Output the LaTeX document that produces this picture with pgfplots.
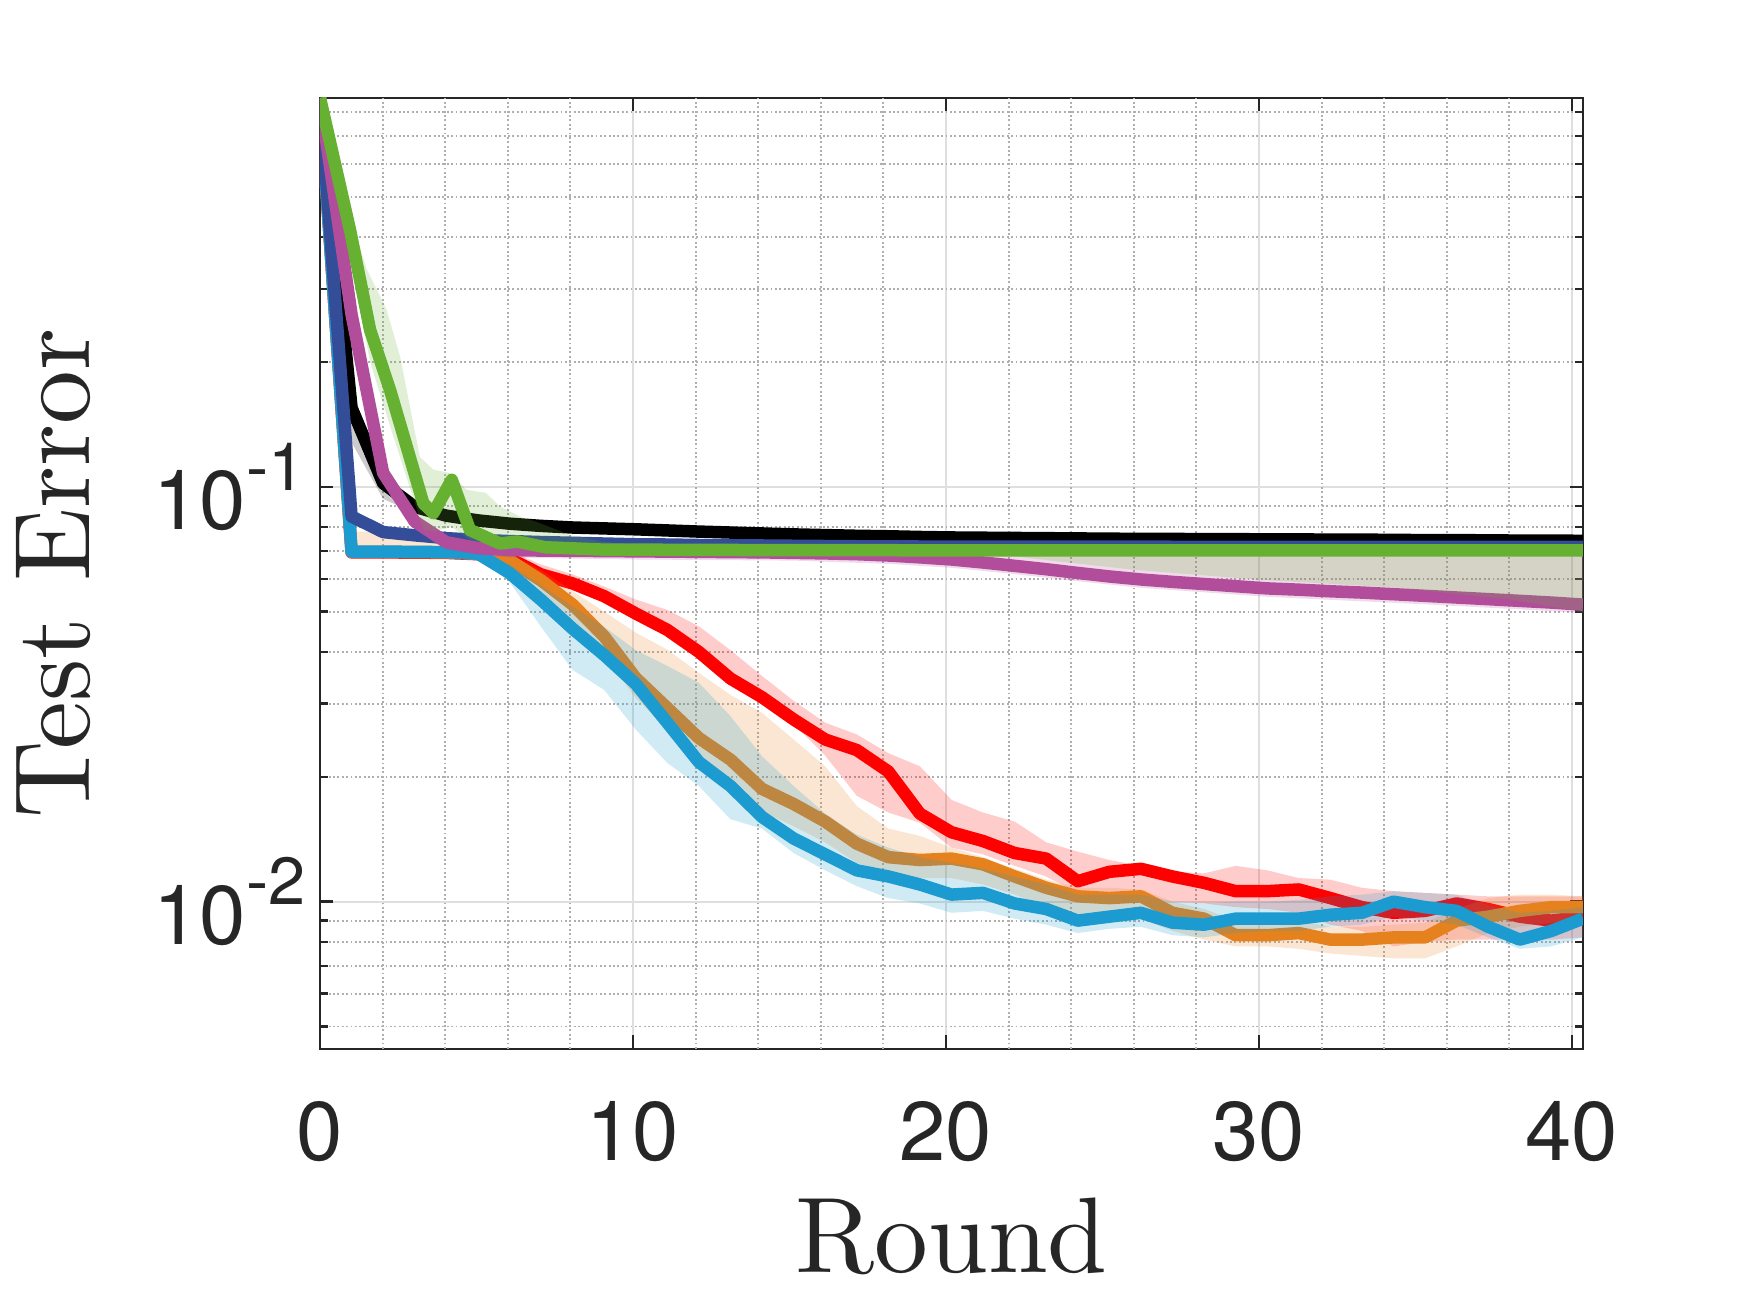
\documentclass[border=0pt]{standalone}
\usepackage{pgfplots}
\pgfplotsset{compat=1.18}
\usepackage{pgfplotstable}
\usepackage{fontspec}
\newfontfamily\hv{TeX Gyre Heros}
\definecolor{axc}{RGB}{38,38,38}
\definecolor{gridc}{RGB}{223,223,223}
\definecolor{mgridc}{RGB}{175,175,175}
\definecolor{cRed}{RGB}{255,0,0}
\definecolor{cOrg}{RGB}{230,130,30}
\definecolor{cCyn}{RGB}{27,155,207}
\definecolor{cDbl}{RGB}{51,77,153}
\definecolor{cMag}{RGB}{178,77,155}
\definecolor{cGrn}{RGB}{102,177,50}
\newcommand{\tl}{\hv\fontsize{20}{24}\selectfont}
\newcommand{\sps}[1]{\raisebox{9.5pt}{\fontsize{16}{18}\selectfont #1}}

\pgfplotstableread{
x blk dbl cyn red org mag
0 0.866 0.866 0.866 0.866 0.866 0.866
1.009 0.155 0.0848 0.0698 0.0695 0.0697 0.26
2.018 0.102 0.0778 0.0698 0.0695 0.0697 0.108
3.026 0.0895 0.0764 0.0697 0.0694 0.0696 0.0825
4.035 0.0852 0.0752 0.0696 0.0693 0.0695 0.0735
5.044 0.0830 0.0745 0.0690 0.0688 0.0689 0.0712
6.053 0.0815 0.0740 0.0620 0.0672 0.0665 0.0704
7.061 0.0805 0.0736 0.0534 0.0615 0.0595 0.0702
8.070 0.0798 0.0733 0.0455 0.0585 0.0520 0.0701
9.079 0.0794 0.0730 0.0393 0.0545 0.0436 0.0700
10.088 0.0790 0.0727 0.0335 0.0495 0.0346 0.0699
11.096 0.0785 0.0726 0.0270 0.0452 0.0293 0.0698
12.105 0.0780 0.0724 0.0217 0.0400 0.0248 0.0697
13.114 0.0776 0.0723 0.0190 0.0345 0.0220 0.0696
14.123 0.0772 0.0722 0.0160 0.0311 0.0187 0.0695
15.131 0.0768 0.0721 0.0142 0.0275 0.0172 0.0693
16.140 0.0765 0.0720 0.0130 0.0246 0.0156 0.0691
17.149 0.0762 0.0719 0.0119 0.0232 0.0138 0.0688
18.158 0.0760 0.0719 0.0115 0.0206 0.0128 0.0683
19.166 0.0757 0.0718 0.0110 0.0163 0.0126 0.0676
20.175 0.0755 0.0718 0.0104 0.0147 0.0127 0.0668
21.184 0.0754 0.0718 0.0105 0.0140 0.0123 0.0657
22.193 0.0753 0.0718 0.0099 0.0131 0.0115 0.0645
23.201 0.0752 0.0718 0.0096 0.0127 0.0108 0.0633
24.210 0.0751 0.0718 0.0090 0.0112 0.0103 0.0620
25.219 0.0750 0.0718 0.0092 0.0118 0.0102 0.0608
26.228 0.0749 0.0718 0.0094 0.0120 0.0103 0.0598
27.236 0.0749 0.0717 0.0089 0.0115 0.0094 0.0590
28.245 0.0748 0.0717 0.0088 0.0111 0.0091 0.0583
29.254 0.0748 0.0717 0.0091 0.0106 0.0083 0.0576
30.263 0.0747 0.0717 0.0091 0.0106 0.0083 0.0569
31.271 0.0747 0.0717 0.0091 0.0107 0.0084 0.0565
32.280 0.0746 0.0717 0.0093 0.0102 0.0081 0.0560
33.289 0.0746 0.0717 0.0094 0.0097 0.0081 0.0556
34.298 0.0745 0.0717 0.0100 0.0094 0.0082 0.0551
35.306 0.0744 0.0717 0.0097 0.0095 0.0082 0.0546
36.315 0.0744 0.0717 0.0095 0.0099 0.0090 0.0541
37.324 0.0743 0.0717 0.0087 0.0096 0.0092 0.0536
38.333 0.0742 0.0717 0.0081 0.0092 0.0095 0.0531
39.341 0.0742 0.0717 0.0085 0.0090 0.0097 0.0526
40.350 0.0741 0.0717 0.0091 0.0092 0.0097 0.0520
}\lines

\begin{document}
\begin{tikzpicture}
\path[use as bounding box] (-76.8pt,-63.36pt) rectangle (343.2pt,251.7pt);
\begin{axis}[
  at={(0,0)}, anchor=south west,
  scale only axis, width=303.1pt, height=228.2pt,
  xmin=0, xmax=40.35, ymode=log, ymin=0.00442, ymax=0.866,
  xtick={0,10,20,30,40}, xticklabels={0,10,20,30,40},
  ytick={0.01,0.1}, yticklabels={{10\sps{-2}},{10\sps{-1}}},
  minor ytick={0.005,0.006,0.007,0.008,0.009,0.02,0.03,0.04,0.05,0.06,0.07,0.08,0.09,0.2,0.3,0.4,0.5,0.6,0.7,0.8},
  tick align=inside,
  major tick length=3.2pt, minor tick length=1.9pt,
  tick style={color=axc, line width=0.6pt},
  axis line style={color=axc, line width=0.6pt},
  grid=both,
  major grid style={color=gridc, line width=0.5pt, solid},
  minor grid style={color=mgridc, line width=0.45pt, dash pattern=on 0.45pt off 0.6pt},
  tick label style={font=\tl, color=axc},
  xticklabel style={anchor=base, yshift=-26.9pt},
  every axis x label/.style={at={(rel axis cs:0.5,0)}, anchor=base, yshift=-53.8pt, scale=2.58},
  every axis y label/.style={at={(rel axis cs:0,0.5)}, xshift=-55.2pt, rotate=90, anchor=base, scale=2.58},
  label style={font=\fontsize{10}{12}\selectfont, color=axc},
  xlabel={Round}, ylabel={Test Error},
]
\pgfplotsinvokeforeach{2,4,6,8,12,14,16,18,22,24,26,28,32,34,36,38}{
  \draw[color=mgridc, line width=0.45pt, dash pattern=on 0.45pt off 0.6pt] (axis cs:#1,0.00442) -- (axis cs:#1,0.866);
}
% red
\addplot[draw=none, fill=cRed, fill opacity=0.2] coordinates {(0,0.866)(1.009,0.0720)(2.018,0.0720)(3.026,0.0718)(4.035,0.0715)(5.044,0.0708)(6.053,0.0700)(7.061,0.0650)(8.070,0.0615)(9.079,0.0575)(10.088,0.0535)(11.096,0.0505)(12.105,0.0461)(13.114,0.0404)(14.123,0.0350)(15.131,0.0305)(16.140,0.0270)(17.149,0.0253)(18.158,0.0228)(19.166,0.0212)(20.175,0.0176)(21.184,0.0164)(22.193,0.0156)(23.201,0.0139)(24.210,0.0132)(25.219,0.0126)(26.228,0.0122)(27.236,0.0118)(28.245,0.0117)(29.254,0.0122)(30.263,0.0119)(31.271,0.0114)(32.280,0.0113)(33.289,0.0108)(34.298,0.0106)(35.306,0.0105)(36.315,0.0104)(37.324,0.0103)(38.333,0.0103)(39.341,0.0103)(40.350,0.0103)
(40.350,0.0082)(39.341,0.0081)(38.333,0.0081)(37.324,0.0081)(36.315,0.0081)(35.306,0.0080)(34.298,0.0078)(33.289,0.0085)(32.280,0.0088)(31.271,0.0094)(30.263,0.0096)(29.254,0.0097)(28.245,0.0099)(27.236,0.0100)(26.228,0.0102)(25.219,0.0105)(24.210,0.0105)(23.201,0.0115)(22.193,0.0122)(21.184,0.0130)(20.175,0.0135)(19.166,0.0155)(18.158,0.0164)(17.149,0.0180)(16.140,0.0225)(15.131,0.0268)(14.123,0.0303)(13.114,0.0338)(12.105,0.0390)(11.096,0.0440)(10.088,0.0480)(9.079,0.0525)(8.070,0.0565)(7.061,0.0595)(6.053,0.0650)(5.044,0.0678)(4.035,0.0685)(3.026,0.0688)(2.018,0.0690)(1.009,0.0690)};
\addplot[cRed, line width=3pt, line join=round] table[x=x,y=red]{\lines};
% orange
\addplot[draw=none, fill=cOrg, fill opacity=0.2] coordinates {(0,0.866)(1.009,0.078)(2.018,0.078)(3.026,0.075)(4.035,0.073)(5.044,0.072)(6.053,0.069)(7.061,0.063)(8.070,0.056)(9.079,0.050)(10.088,0.0445)(11.096,0.0405)(12.105,0.0356)(13.114,0.0315)(14.123,0.0285)(15.131,0.0246)(16.140,0.0212)(17.149,0.0170)(18.158,0.0150)(19.166,0.0144)(20.175,0.0135)(21.184,0.0128)(22.193,0.0120)(23.201,0.0113)(24.210,0.0108)(25.219,0.0108)(26.228,0.0107)(27.236,0.0100)(28.245,0.0096)(29.254,0.0090)(30.263,0.0089)(31.271,0.0090)(32.280,0.0087)(33.289,0.0087)(34.298,0.0088)(35.306,0.0089)(36.315,0.0096)(37.324,0.0102)(38.333,0.0104)(39.341,0.0104)(40.350,0.0103)
(40.350,0.0090)(39.341,0.0089)(38.333,0.0087)(37.324,0.0084)(36.315,0.0078)(35.306,0.0073)(34.298,0.0073)(33.289,0.0074)(32.280,0.0075)(31.271,0.0077)(30.263,0.0078)(29.254,0.0078)(28.245,0.0081)(27.236,0.0085)(26.228,0.0091)(25.219,0.0092)(24.210,0.0093)(23.201,0.0097)(22.193,0.0104)(21.184,0.0110)(20.175,0.0114)(19.166,0.0114)(18.158,0.0117)(17.149,0.0124)(16.140,0.0139)(15.131,0.0152)(14.123,0.0165)(13.114,0.0195)(12.105,0.0220)(11.096,0.0260)(10.088,0.0310)(9.079,0.0390)(8.070,0.0460)(7.061,0.0540)(6.053,0.0630)(5.044,0.0670)(4.035,0.0680)(3.026,0.0682)(2.018,0.0683)(1.009,0.0683)};
\addplot[cOrg, line width=3pt, line join=round] table[x=x,y=org]{\lines};
% cyan
\addplot[draw=none, fill=cCyn, fill opacity=0.2] coordinates {(0,0.866)(1.009,0.0712)(2.018,0.0712)(3.026,0.0711)(4.035,0.0710)(5.044,0.0705)(6.053,0.0650)(7.061,0.0580)(8.070,0.0515)(9.079,0.0460)(10.088,0.0404)(11.096,0.0370)(12.105,0.0337)(13.114,0.0280)(14.123,0.0224)(15.131,0.0190)(16.140,0.0163)(17.149,0.0145)(18.158,0.0135)(19.166,0.0128)(20.175,0.0124)(21.184,0.0120)(22.193,0.0115)(23.201,0.0110)(24.210,0.0104)(25.219,0.0104)(26.228,0.0104)(27.236,0.0100)(28.245,0.0099)(29.254,0.0100)(30.263,0.0100)(31.271,0.0101)(32.280,0.0103)(33.289,0.0104)(34.298,0.0106)(35.306,0.0105)(36.315,0.0104)(37.324,0.0098)(38.333,0.0094)(39.341,0.0095)(40.350,0.0097)
(40.350,0.0082)(39.341,0.0078)(38.333,0.0077)(37.324,0.0082)(36.315,0.0088)(35.306,0.0090)(34.298,0.0092)(33.289,0.0088)(32.280,0.0087)(31.271,0.0085)(30.263,0.0085)(29.254,0.0084)(28.245,0.0082)(27.236,0.0083)(26.228,0.0087)(25.219,0.0086)(24.210,0.0084)(23.201,0.0088)(22.193,0.0091)(21.184,0.0095)(20.175,0.0094)(19.166,0.0099)(18.158,0.0102)(17.149,0.0109)(16.140,0.0119)(15.131,0.0131)(14.123,0.0150)(13.114,0.0158)(12.105,0.0190)(11.096,0.0216)(10.088,0.0260)(9.079,0.0324)(8.070,0.0362)(7.061,0.0460)(6.053,0.0590)(5.044,0.0675)(4.035,0.0683)(3.026,0.0684)(2.018,0.0685)(1.009,0.0685)};
\addplot[cCyn, line width=3pt, line join=round] table[x=x,y=cyn]{\lines};
% black
\addplot[draw=none, fill=black, fill opacity=0.2] coordinates {(0,0.866)(1.009,0.168)(2.018,0.107)(3.026,0.092)(4.035,0.087)(6.053,0.083)(10.088,0.0800)(20.175,0.0765)(40.35,0.0750)(40.35,0.0733)(20.175,0.0746)(10.088,0.0780)(6.053,0.0800)(4.035,0.0835)(3.026,0.0865)(2.018,0.0935)(1.009,0.128)};
\addplot[black, line width=3pt, line join=round] table[x=x,y=blk]{\lines};
% dark blue
\addplot[cDbl, line width=3pt, line join=round] table[x=x,y=dbl]{\lines};
% magenta
\addplot[draw=none, fill=cMag, fill opacity=0.2] coordinates {(0,0.866)(1.009,0.285)(2.018,0.115)(3.026,0.086)(4.035,0.076)(5.044,0.073)(6.053,0.0715)(15.131,0.0708)(18.158,0.0695)(40.35,0.0695)(40.35,0.0497)(35.306,0.0521)(30.263,0.0543)(26.228,0.0571)(24.21,0.0592)(22.193,0.0616)(20.175,0.0638)(18.158,0.0652)(15.131,0.0664)(10.088,0.0668)(6.053,0.0675)(5.044,0.0685)(4.035,0.0705)(3.026,0.079)(2.018,0.102)(1.009,0.24)};
\addplot[cMag, line width=3pt, line join=round] table[x=x,y=mag]{\lines};
% green
\addplot[draw=none, fill=cGrn, fill opacity=0.2] coordinates {(0,0.866)(0.96,0.45)(1.49,0.335)(2.13,0.267)(2.56,0.206)(3.19,0.118)(3.62,0.110)(4.15,0.108)(4.68,0.0984)(5.3,0.0967)(5.75,0.0897)(6.39,0.0848)(7.0,0.0819)(8.0,0.0765)(9,0.0738)(10,0.0725)(14,0.0715)(20,0.0712)(40.35,0.0710)(40.35,0.0500)(38,0.0535)(34.3,0.0572)(30,0.0597)(26,0.0631)(23.5,0.0662)(21.5,0.0690)(20,0.0696)(14,0.0698)(10,0.0700)(6.4,0.0712)(5.75,0.072)(4.79,0.0745)(4.21,0.080)(3.62,0.078)(3.3,0.079)(2.24,0.14)(1.6,0.20)(0.96,0.36)};
\addplot[cGrn, line width=3pt, line join=round] coordinates {(0,0.866)(0.96,0.416)(1.6,0.239)(2.24,0.171)(3.3,0.0913)(3.62,0.0864)(4.21,0.104)(4.79,0.0787)(5.75,0.073)(6.3,0.0738)(7.2,0.0715)(9,0.0706)(14,0.0704)(20,0.0703)(40.35,0.0703)};
\end{axis}
\end{tikzpicture}
\end{document}
